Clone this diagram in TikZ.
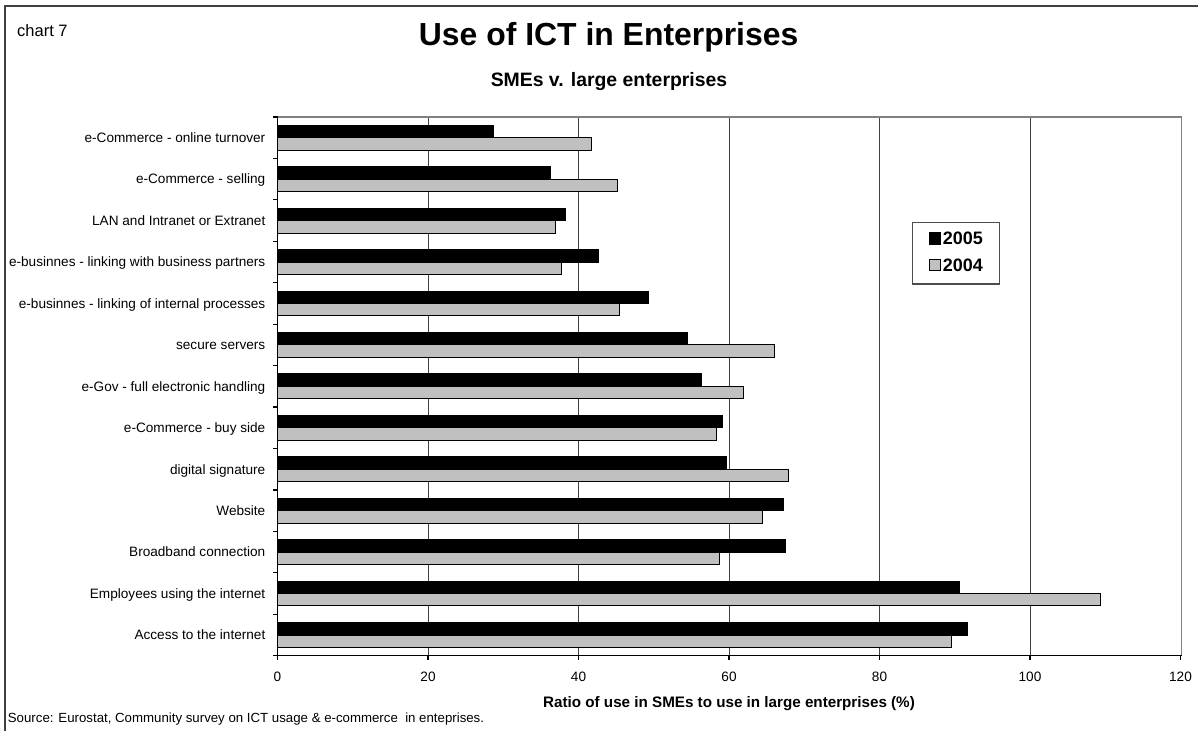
\documentclass[tikz,border=0pt]{standalone}
\usepackage{fontspec}
\setmainfont{Liberation Sans}
\usetikzlibrary{positioning}
\definecolor{barsilver}{HTML}{C0C0C0}
\tikzset{
  smalltext/.style={font=\fontsize{13.6}{16}\selectfont, inner sep=0pt},
  catlabel/.style={smalltext, anchor=base east},
  ticklabel/.style={smalltext, anchor=base},
  bar05/.style={draw=black, fill=black, line width=1pt},
  bar04/.style={draw=black, fill=barsilver, line width=1pt},
  gridline/.style={draw=black!75, line width=0.9pt},
  plotframe/.style={draw=gray, line width=1.6pt},
  axisline/.style={draw=black, line width=1.2pt},
  legendkey/.style={draw=black, line width=0.8pt, minimum size=11.4pt, inner sep=0pt},
  legendtext/.style={font=\bfseries\fontsize{18}{20}\selectfont, inner sep=0pt}
}

\begin{document}
\begin{tikzpicture}[x=1pt, y=-1pt]
    \useasboundingbox (0,0) rectangle (1198,731);
    % frame and titles
    \draw[black!75, line width=2pt] (5,731) -- (5,5.5) -- (1198,5.5);
    \node[anchor=base west, inner sep=0pt, font=\fontsize{16.5}{18}\selectfont] (chartno) at (17,36) {chart 7};
    \node[anchor=base, inner sep=0pt, font=\bfseries\fontsize{31.9}{36}\selectfont] (title) at (608.6,45) {Use of ICT in Enterprises};
    \node[anchor=base, inner sep=0pt, font=\bfseries\fontsize{19.4}{22}\selectfont] (subtitle) at (609,86) {SMEs v. large enterprises};

    % grid
    \foreach \v in {20,40,...,100}
        \draw[gridline] (277.5+\v*7.525,116.7) -- (277.5+\v*7.525,655.7);

    % bars, 2005 on top and 2004 below
    \foreach \i/\a/\b/\name in {
        0/28.7/41.75/{e-Commerce - online turnover},
        1/36.3/45.2/{e-Commerce - selling},
        2/38.3/36.9/{LAN and Intranet or Extranet},
        3/42.6/37.8/{e-businnes - linking with business partners},
        4/49.3/45.4/{e-businnes - linking of internal processes},
        5/54.5/66.0/{secure servers},
        6/56.3/61.9/{e-Gov - full electronic handling},
        7/59.2/58.4/{e-Commerce - buy side},
        8/59.6/67.9/{digital signature},
        9/67.2/64.5/{Website},
        10/67.45/58.8/{Broadband connection},
        11/90.6/109.4/{Employees using the internet},
        12/91.7/89.5/{Access to the internet}} {
        \pgfmathsetmacro\c{117+(\i+0.5)*41.44}
        \draw[bar05] (277.5,\c-12.4) rectangle (277.5+\a*7.525,\c);
        \draw[bar04] (277.5,\c) rectangle (277.5+\b*7.525,\c+12.4);
        \node[catlabel] (cat\i) at (265.5,\c+4.8) {\name};
    }

    % axes
    \draw[plotframe] (277.5,116.7) -- (1181.5,116.7) -- (1181.5,655.7);
    \draw[axisline] (277.5,116.7) -- (277.5,655.7) -- (1181.5,655.7);
    \foreach \k in {0,...,13}
        \draw[axisline] (273,117+\k*41.44) -- (277.5,117+\k*41.44);
    \foreach \v in {0,20,...,120} {
        \draw[axisline] (277.5+\v*7.525,655.7) -- (277.5+\v*7.525,660);
        \node[ticklabel] (tick\v) at (277.5+\v*7.525,681.5) {\v};
    }
    \node[anchor=base, inner sep=0pt, font=\bfseries\fontsize{15.2}{18}\selectfont] (xtitle) at (729,707.2) {Ratio of use in SMEs to use in large enterprises (\%)};
    \node[smalltext, anchor=base west, font=\fontsize{13.25}{16}\selectfont] (source) at (7.7,722) {Source: Eurostat, Community survey on ICT usage \& e-commerce\ \ in enteprises.};

    % legend
    \node[draw=black!70, line width=1.2pt, fill=white, minimum width=87pt, minimum height=61.7pt, inner sep=0pt] (legend) at (955.8,253.2) {};
    \node[legendkey, fill=black] (key05) at (935,238.4) {};
    \node[legendkey, fill=barsilver] (key04) at (935,265) {};
    \node[legendtext, right=1.6pt of key05] (lab05) {2005};
    \node[legendtext, right=1.6pt of key04] (lab04) {2004};
\end{tikzpicture}
\end{document}
